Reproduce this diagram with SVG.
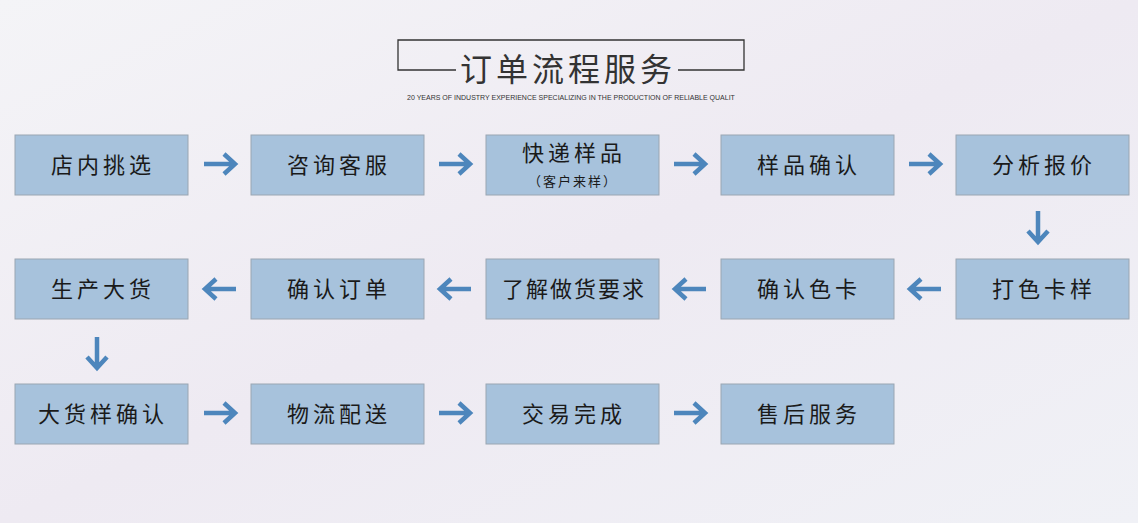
<svg xmlns="http://www.w3.org/2000/svg" width="1138" height="523" viewBox="0 0 1138 523">
<defs>
<linearGradient id="bg" x1="0" y1="0" x2="1" y2="1"><stop offset="0" stop-color="#f4f4f7"/><stop offset="0.5" stop-color="#eeeaf2"/><stop offset="1" stop-color="#f0f1f6"/></linearGradient>
<g id="ar"><path d="M-16,0 H14 M4,-10 L15,0 L4,10" fill="none" stroke="#4d86bc" stroke-width="4.5"/></g>
</defs>
<style>
.b rect{fill:#a7c2dc;stroke:#9aa6b2;stroke-width:1}
.b text{font-family:"Noto Sans CJK SC",sans-serif;font-size:22px;fill:#1a1a1a;text-anchor:middle;letter-spacing:4px}
</style>
<rect width="1138" height="523" fill="url(#bg)"/>
<g id="title">
<path d="M456,70 H398 V40 H744 V70 H678" fill="none" stroke="#333" stroke-width="1.3"/>
<text x="568" y="81" font-family="Noto Sans CJK SC,sans-serif" font-size="32" fill="#333" text-anchor="middle" letter-spacing="4">订单流程服务</text>
<text x="571" y="100" font-family="Liberation Sans,sans-serif" font-size="7" fill="#333" text-anchor="middle">20 YEARS OF INDUSTRY EXPERIENCE SPECIALIZING IN THE PRODUCTION OF RELIABLE QUALIT</text>
</g>
<g id="n1" class="b"><rect x="15" y="135" width="173" height="60"/><text x="103" y="173">店内挑选</text></g>
<g id="n2" class="b"><rect x="251" y="135" width="173" height="60"/><text x="339" y="173">咨询客服</text></g>
<g id="n3" class="b"><rect x="486" y="135" width="173" height="60"/><text x="574" y="161">快递样品</text><text x="573" y="186" style="font-size:13px;letter-spacing:2px">（客户来样）</text></g>
<g id="n4" class="b"><rect x="721" y="135" width="173" height="60"/><text x="809" y="173">样品确认</text></g>
<g id="n5" class="b"><rect x="956" y="135" width="173" height="60"/><text x="1044" y="173">分析报价</text></g>
<g id="n6" class="b"><rect x="956" y="259" width="173" height="60"/><text x="1044" y="297">打色卡样</text></g>
<g id="n7" class="b"><rect x="721" y="259" width="173" height="60"/><text x="809" y="297">确认色卡</text></g>
<g id="n8" class="b"><rect x="486" y="259" width="173" height="60"/><text x="574" y="297" style="letter-spacing:2px">了解做货要求</text></g>
<g id="n9" class="b"><rect x="251" y="259" width="173" height="60"/><text x="339" y="297">确认订单</text></g>
<g id="n10" class="b"><rect x="15" y="259" width="173" height="60"/><text x="103" y="297">生产大货</text></g>
<g id="n11" class="b"><rect x="15" y="384" width="173" height="60"/><text x="103" y="422">大货样确认</text></g>
<g id="n12" class="b"><rect x="251" y="384" width="173" height="60"/><text x="339" y="422">物流配送</text></g>
<g id="n13" class="b"><rect x="486" y="384" width="173" height="60"/><text x="574" y="422">交易完成</text></g>
<g id="n14" class="b"><rect x="721" y="384" width="173" height="60"/><text x="809" y="422">售后服务</text></g>
<g id="connectors">
<use href="#ar" transform="translate(220,164)"/>
<use href="#ar" transform="translate(455,164)"/>
<use href="#ar" transform="translate(690,164)"/>
<use href="#ar" transform="translate(925,164)"/>
<use href="#ar" transform="translate(1038,227) rotate(90)"/>
<use href="#ar" transform="translate(925,289) rotate(180)"/>
<use href="#ar" transform="translate(690,289) rotate(180)"/>
<use href="#ar" transform="translate(455,289) rotate(180)"/>
<use href="#ar" transform="translate(220,289) rotate(180)"/>
<use href="#ar" transform="translate(97,353) rotate(90)"/>
<use href="#ar" transform="translate(220,413)"/>
<use href="#ar" transform="translate(455,413)"/>
<use href="#ar" transform="translate(690,413)"/>
</g>
</svg>
